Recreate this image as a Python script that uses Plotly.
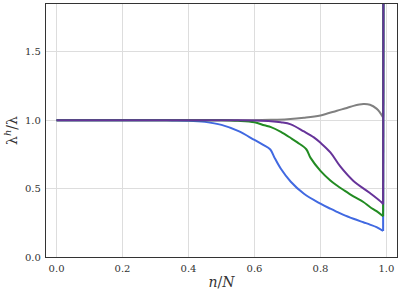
import plotly.graph_objects as go

# curves (n/N vs lambda^h/lambda)
x_blue = [0, 0.1, 0.2, 0.3, 0.35, 0.4, 0.45, 0.5, 0.55, 0.6, 0.625, 0.648, 0.66, 0.68, 0.71, 0.75, 0.8, 0.83, 0.85, 0.87, 0.9, 0.93, 0.95, 0.97, 0.99]
y_blue = [1, 1, 1, 1, 0.999, 0.997, 0.988, 0.966, 0.922, 0.856, 0.822, 0.786, 0.73, 0.645, 0.55, 0.462, 0.39, 0.353, 0.33, 0.308, 0.28, 0.254, 0.237, 0.218, 0.19]

x_green = [0, 0.1, 0.2, 0.3, 0.4, 0.5, 0.55, 0.6, 0.63, 0.65, 0.68, 0.71, 0.73, 0.757, 0.77, 0.8, 0.83, 0.85, 0.87, 0.9, 0.93, 0.95, 0.97, 0.99]
y_green = [1, 1, 1, 1, 1, 1, 0.996, 0.985, 0.963, 0.95, 0.915, 0.87, 0.838, 0.788, 0.725, 0.63, 0.56, 0.523, 0.49, 0.443, 0.402, 0.366, 0.335, 0.298]

x_purple = [0, 0.1, 0.2, 0.3, 0.4, 0.5, 0.55, 0.6, 0.65, 0.68, 0.71, 0.75, 0.78, 0.8, 0.83, 0.86, 0.9, 0.95, 0.985, 0.99]
y_purple = [1, 1, 1, 1, 1, 1, 1, 0.998, 0.993, 0.985, 0.97, 0.918, 0.875, 0.835, 0.765, 0.662, 0.556, 0.468, 0.40, 0.385]

x_gray = [0, 0.1, 0.2, 0.3, 0.4, 0.5, 0.6, 0.65, 0.7, 0.75, 0.8, 0.85, 0.88, 0.9, 0.93, 0.95, 0.97, 0.98, 0.99]
y_gray = [1, 1, 1, 1, 1, 1, 1.0, 1.003, 1.008, 1.018, 1.035, 1.07, 1.09, 1.105, 1.118, 1.113, 1.085, 1.058, 1.02]

# every curve shoots up (off the chart) right before n/N = 1
x_spike = 0.992
y_spike = 4.0

x_ticks = [0.0, 0.2, 0.4, 0.6, 0.8, 1.0]
y_ticks = [0.0, 0.5, 1.0, 1.5]

fig = go.Figure()
series = [
    (x_gray, y_gray, "#808080"),
    (x_blue, y_blue, "#4169E1"),
    (x_green, y_green, "#228B22"),
    (x_purple, y_purple, "#663399"),
]
for xs, ys, col in series:
    fig.add_trace(go.Scatter(x=xs, y=ys, mode="lines",
                             line=dict(color=col, width=2, shape="spline", smoothing=1.0),
                             showlegend=False))
    fig.add_trace(go.Scatter(x=[xs[-1], x_spike], y=[ys[-1], y_spike], mode="lines",
                             line=dict(color=col, width=2), showlegend=False))

tfont = dict(family="DejaVu Serif", size=10, color="#333")
fig.update_layout(
    width=399, height=294,
    margin=dict(l=46, r=2, t=4, b=37),
    plot_bgcolor="white", paper_bgcolor="white",
    font=tfont,
)
fig.update_xaxes(
    range=[-0.032, 1.032], tickvals=x_ticks, ticktext=[f"{v:.1f}" for v in x_ticks],
    showgrid=True, gridcolor="#dddddd", gridwidth=1, zeroline=False,
    showline=True, linecolor="#333", linewidth=1.2, mirror=True,
    ticks="", ticklabelstandoff=2, automargin=False, tickfont=tfont,
    title=dict(text="<i>n</i>/<i>N</i>", font=dict(family="DejaVu Serif", size=14, color="#333"), standoff=4),
)
fig.update_yaxes(
    range=[0, 1.85], tickvals=y_ticks, ticktext=[f"{v:.1f}" for v in y_ticks],
    showgrid=True, gridcolor="#dddddd", gridwidth=1, zeroline=False,
    showline=True, linecolor="#333", linewidth=1.2, mirror=True,
    ticks="", ticklabelstandoff=2, automargin=False, tickfont=tfont,
    title=dict(text="λ<sup><i>h</i></sup>/λ", font=dict(family="DejaVu Serif", size=14, color="#333"), standoff=4),
)

# the page body has an 8px default margin; drop it so the figure fills the window
fig.write_html("out.html", config={"displayModeBar": False},
               post_script="document.body.style.margin='0';document.body.style.overflow='hidden';")
